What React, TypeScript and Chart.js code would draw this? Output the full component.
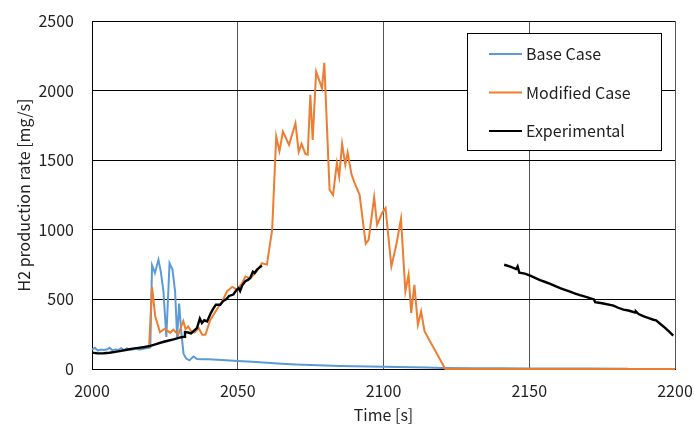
import React, { useEffect, useRef } from "react";
import { Chart, registerables } from "chart.js";

Chart.register(...registerables);

const xTicks = [2000, 2050, 2100, 2150, 2200];
const yTicks = [0, 500, 1000, 1500, 2000, 2500];

const baseTime = [2000, 2001, 2002, 2003, 2004, 2005, 2006, 2007, 2008, 2009, 2010, 2011, 2012, 2013, 2014, 2015, 2016, 2017, 2018, 2019, 2020, 2020.6, 2021.6, 2022.8, 2023.6, 2024.5, 2025.5, 2026.6, 2027.6, 2028.5, 2029.2, 2029.9, 2030.6, 2031.4, 2032.3, 2033.4, 2034.8, 2036, 2038, 2040, 2043, 2046, 2050, 2055, 2060, 2065, 2070, 2075, 2080, 2085, 2090, 2095, 2100, 2105, 2110, 2115, 2120, 2130, 2140, 2150, 2160, 2170, 2184];
const baseRate = [140, 152, 132, 140, 136, 140, 152, 134, 140, 136, 150, 136, 148, 138, 140, 148, 140, 142, 148, 150, 155, 745, 690, 785, 700, 560, 230, 760, 715, 560, 230, 470, 270, 110, 75, 62, 90, 72, 70, 70, 66, 62, 58, 52, 45, 38, 33, 28, 25, 22, 20, 18, 16, 14, 12, 10, 8, 6, 5, 4, 3, 3, 2];

const modTime = [2019.6, 2020.6, 2021.7, 2023.3, 2025, 2026.8, 2027.9, 2029.6, 2031.3, 2032.1, 2033, 2034.2, 2035.2, 2036.6, 2037.8, 2038.9, 2040.6, 2042, 2043.5, 2045, 2046.3, 2048.1, 2049.8, 2051.5, 2052.6, 2054.3, 2056.6, 2058.3, 2060, 2061.8, 2063.2, 2064.3, 2065.5, 2067.6, 2069.8, 2070.9, 2071.9, 2073.2, 2074, 2074.9, 2075.7, 2076.9, 2078.9, 2079.7, 2081.5, 2082.7, 2084, 2084.8, 2085.8, 2086.9, 2087.7, 2089, 2090.1, 2091.8, 2093.9, 2094.9, 2096.8, 2097.8, 2099.5, 2100.7, 2102.7, 2104.4, 2106, 2107.5, 2108.6, 2109.5, 2110.6, 2111.8, 2112.9, 2114.1, 2121.2, 2200];
const modRate = [162, 590, 378, 265, 290, 260, 282, 246, 345, 285, 306, 265, 262, 294, 246, 246, 354, 400, 449, 500, 557, 590, 570, 617, 665, 650, 705, 760, 750, 1000, 1670, 1565, 1705, 1610, 1766, 1560, 1617, 1545, 1540, 1969, 1646, 2136, 2017, 2200, 1287, 1251, 1479, 1383, 1617, 1467, 1555, 1400, 1335, 1251, 900, 928, 1235, 1036, 1120, 1156, 737, 892, 1079, 557, 677, 402, 605, 318, 413, 270, 0, 0];

const expTime = [2000, 2002, 2004, 2006, 2008, 2010, 2012, 2014, 2016, 2018, 2020, 2022, 2024, 2026, 2028, 2030, 2031.6, 2031.9, 2033, 2034, 2035, 2036, 2037, 2037.7, 2038.5, 2039.5, 2040.6, 2041.5, 2042.5, 2044, 2045, 2046, 2047, 2048.5, 2049.5, 2050.3, 2050.8, 2051.5, 2052.6, 2053.5, 2054.3, 2055.2, 2055.8, 2056.6, 2057.5, 2058.3,
  2100,
  2141.4, 2143.5, 2145.5, 2146, 2146.6, 2148.5, 2150.3, 2152, 2153.7, 2155.5, 2157.2, 2159, 2160.6, 2162, 2164, 2166, 2167.4, 2170, 2172.2, 2172.6, 2175, 2178.9, 2180.5, 2182.3, 2184, 2186.3, 2186.6, 2187.5, 2189.1, 2191, 2192.6, 2193.5, 2194.9, 2196.6, 2198, 2199.4];
const expRate = [118, 112, 113, 117, 123, 130, 138, 146, 152, 158, 166, 178, 192, 203, 213, 225, 232, 265, 262, 256, 275, 294, 362, 330, 350, 342, 395, 430, 462, 462, 488, 500, 525, 535, 565, 580, 560, 600, 630, 640, 655, 700, 690, 715, 730, 742,
  null,
  749, 735, 718, 737, 692, 685, 670, 655, 638, 625, 612, 595, 581, 570, 555, 540, 530, 515, 500, 480, 472, 455, 440, 426, 420, 406, 414, 395, 380, 365, 354, 350, 325, 296, 268, 240];

const FONT = '"Noto Sans CJK JP", "Noto Sans", sans-serif';

const toPoints = (xs: number[], ys: (number | null)[]) => xs.map((x, i) => ({ x, y: ys[i] }));

const legendPlugin = {
  id: "boxLegend",
  afterDatasetsDraw(chart: any) {
    const ctx = chart.ctx;
    ctx.save();
    ctx.fillStyle = "#ffffff";
    ctx.fillRect(467.5, 33.5, 194, 117);
    ctx.strokeStyle = "#000000";
    ctx.lineWidth = 1;
    ctx.strokeRect(467.5, 33.5, 194, 117);
    chart.data.datasets.forEach((ds: any, i: number) => {
      const y = 54 + i * 38.5;
      ctx.strokeStyle = ds.borderColor;
      ctx.lineWidth = 2;
      ctx.beginPath();
      ctx.moveTo(489, y);
      ctx.lineTo(522, y);
      ctx.stroke();
      ctx.fillStyle = "#222222";
      ctx.font = `16px ${FONT}`;
      ctx.textBaseline = "middle";
      ctx.textAlign = "left";
      ctx.fillText(ds.label, 526, y);
    });
    ctx.restore();
  },
};

export default function App() {
  const ref = useRef<HTMLCanvasElement | null>(null);
  useEffect(() => {
    if (!ref.current) return;
    const chart = new Chart(ref.current, {
      type: "line",
      data: {
        datasets: [
          { label: "Base Case", data: toPoints(baseTime, baseRate), borderColor: "#5B9BD5", borderWidth: 2, pointRadius: 0, tension: 0, order: 2, clip: false },
          { label: "Modified Case", data: toPoints(modTime, modRate), borderColor: "#ED7D31", borderWidth: 2, pointRadius: 0, tension: 0, order: 1, clip: false },
          { label: "Experimental", data: toPoints(expTime, expRate), borderColor: "#000000", borderWidth: 2.4, pointRadius: 0, tension: 0, order: 0, spanGaps: false, clip: false },
        ],
      } as any,
      options: {
        responsive: false,
        animation: false,
        layout: { padding: { top: 21, right: 19, bottom: 0, left: 0 } },
        plugins: { legend: { display: false }, tooltip: { enabled: false } },
        scales: {
          x: {
            type: "linear",
            min: 2000,
            max: 2200,
            afterBuildTicks: (s: any) => { s.ticks = xTicks.map((v) => ({ value: v })); },
            afterFit: (s: any) => { s.height = 56; s.paddingLeft = 0; s.paddingRight = 0; },
            grid: { color: "#555555", lineWidth: 1, drawTicks: false },
            border: { color: "#000000", width: 1 },
            ticks: { padding: 12, color: "#222222", font: { family: FONT, size: 16 }, maxRotation: 0, callback: (v: any) => String(v) },
            title: { display: true, text: "Time [s]", color: "#222222", font: { family: FONT, size: 16 }, padding: { top: 0, bottom: 0 } },
          },
          y: {
            min: 0,
            max: 2500,
            afterBuildTicks: (s: any) => { s.ticks = yTicks.map((v) => ({ value: v })); },
            afterFit: (s: any) => { s.width = 92; s.paddingTop = 0; s.paddingBottom = 0; },
            grid: { color: "#000000", lineWidth: 1, drawTicks: false },
            border: { color: "#000000", width: 1 },
            ticks: { padding: 18, color: "#222222", font: { family: FONT, size: 16 }, callback: (v: any) => String(v) },
            title: { display: true, text: "H2 production rate [mg/s]", color: "#222222", font: { family: FONT, size: 16 }, padding: { top: 14, bottom: 0 } },
          },
        },
      } as any,
      plugins: [legendPlugin],
    });
    return () => chart.destroy();
  }, []);
  return (
    <div style={{ position: "absolute", left: 0, top: 0, width: 694, height: 425 }}>
      <canvas ref={ref} width={694} height={425} />
    </div>
  );
}
